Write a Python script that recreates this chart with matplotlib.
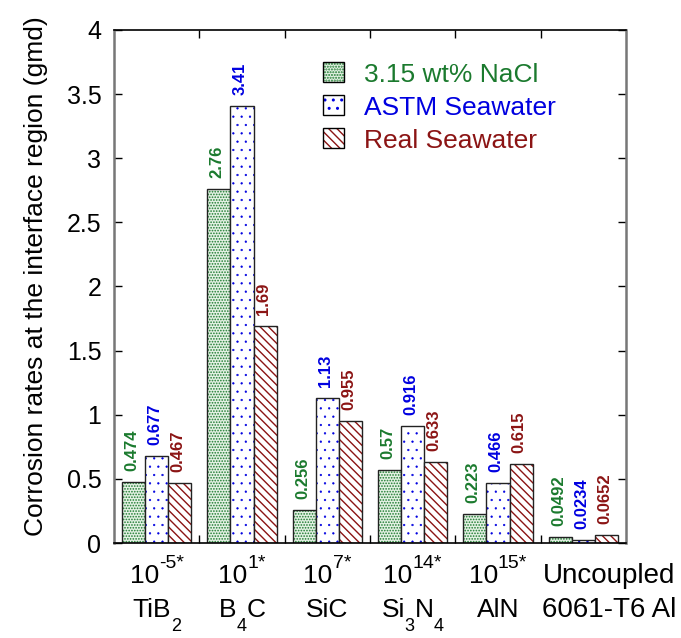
import numpy as np
import matplotlib
matplotlib.use("Agg")
import matplotlib.pyplot as plt
import matplotlib.transforms as mtransforms
from matplotlib.legend_handler import HandlerTuple
from matplotlib.patches import Patch

plt.rcParams['font.family'] = ['Liberation Sans', 'DejaVu Sans']

# data
categories = ['TiB2', 'B4C', 'SiC', 'Si3N4', 'AlN', 'Uncoupled 6061-T6 Al']
nacl = [0.474, 2.76, 0.256, 0.57, 0.223, 0.0492]
astm = [0.677, 3.41, 1.13, 0.916, 0.466, 0.0234]
real = [0.467, 1.69, 0.955, 0.633, 0.615, 0.0652]
nacl_lbl = ['0.474', '2.76', '0.256', '0.57', '0.223', '0.0492']
astm_lbl = ['0.677', '3.41', '1.13', '0.916', '0.466', '0.0234']
real_lbl = ['0.467', '1.69', '0.955', '0.633', '0.615', '0.0652']

# tick label pieces: (text, kind) with kind 'n' normal, 'sup', 'sub'
line1 = [
    [('10', 'n'), ('-5*', 'sup')],
    [('10', 'n'), ('1*', 'sup')],
    [('10', 'n'), ('7*', 'sup')],
    [('10', 'n'), ('14*', 'sup')],
    [('10', 'n'), ('15*', 'sup')],
    [('Uncoupled', 'big')],
]
line2 = [
    [('TiB', 'n'), ('2', 'sub')],
    [('B', 'n'), ('4', 'sub'), ('C', 'n')],
    [('SiC', 'n')],
    [('Si', 'n'), ('3', 'sub'), ('N', 'n'), ('4', 'sub')],
    [('AlN', 'n')],
    [('6061-T6 Al', 'big')],
]

series = [
    ('3.15 wt% NaCl', nacl, nacl_lbl, '#1b7a2e', '#e4f1e4', '......', 0.8),
    ('ASTM Seawater', astm, astm_lbl, '#0000e0', 'white', '..', 0.4),
    ('Real Seawater', real, real_lbl, '#8b1414', 'white', '\\\\\\\\', 1.0),
]

fig = plt.figure(figsize=(6.81, 6.38), dpi=100)
ax = fig.add_axes([0.1674, 0.1489, 0.7518, 0.8041])

x = np.arange(len(categories))
width = 0.27
handles = []
for i, (name, vals, lbls, col, face, hatch, hlw) in enumerate(series):
    pos = x + (i - 1) * width
    with plt.rc_context({'hatch.linewidth': hlw}):
        ax.bar(pos, vals, width, color=face, edgecolor=col, hatch=hatch, linewidth=0)
        hp = Patch(facecolor=face, edgecolor=col, hatch=hatch, linewidth=0)
    ax.bar(pos, vals, width, fill=False, edgecolor='#222222', linewidth=1.0)
    for p, v, t in zip(pos, vals, lbls):
        ax.text(p - 0.02, v + 0.085, t, rotation=90, ha='center', va='bottom',
                color=col, fontsize=12, fontweight='bold')
    handles.append((hp, Patch(fill=False, edgecolor='black', linewidth=1.0)))

leg = ax.legend(handles, [s[0] for s in series], handler_map={tuple: HandlerTuple(ndivide=1, pad=0)},
                loc='upper left', bbox_to_anchor=(0.408, 0.937), frameon=False, fontsize=19,
                handlelength=0.8, handleheight=0.8, labelspacing=0.33, handletextpad=0.75,
                borderpad=0, borderaxespad=0)
for txt, s in zip(leg.get_texts(), series):
    txt.set_color(s[3])

ax.set_xlim(-0.5, 5.5)
ax.set_ylim(0, 4)
ax.set_yticks(np.arange(0, 4.01, 0.5))
ax.set_yticklabels(['0', '0.5', '1', '1.5', '2', '2.5', '3', '3.5', '4'])
ax.set_xticks(np.arange(0.5, 5.0, 1.0))
ax.set_xticklabels([])
ax.tick_params(axis='both', direction='in', length=6, width=1, top=True, right=True,
               labelsize=18, pad=9)
for side in ['left', 'right']:
    ax.spines[side].set_color('#777777')
    ax.spines[side].set_linewidth(1.8)
for side in ['top', 'bottom']:
    ax.spines[side].set_color('black')
    ax.spines[side].set_linewidth(1.2)

ax.set_ylabel('Corrosion rates at the interface region (gmd)', fontsize=19)
ax.yaxis.set_label_coords(-0.128, 0.52)

# category labels with Excel-style super/subscripts (offsets in pixels)
sizes = {'n': 19, 'sup': 14, 'sub': 13, 'big': 20}
dys = {'n': 0, 'sup': 15, 'sub': -14, 'big': 0}
renderer = fig.canvas.get_renderer()
trans = ax.get_xaxis_transform()


def draw_pieces(xc, yfrac, pieces):
    texts = []
    widths = []
    for s, kind in pieces:
        t = ax.text(xc, yfrac, s, transform=trans, ha='left', va='baseline', fontsize=sizes[kind])
        texts.append(t)
        widths.append(t.get_window_extent(renderer).width)
    total = sum(widths)
    dx = -total / 2.0
    for t, w, (s, kind) in zip(texts, widths, pieces):
        t.set_transform(mtransforms.offset_copy(trans, fig, x=dx, y=dys[kind], units='dots'))
        dx += w


for i in range(len(categories)):
    xc = i + (0.3 if i == 5 else 0.0)
    draw_pieces(xc, -0.078, line1[i])
    draw_pieces(xc, -0.144, line2[i])

fig.savefig('out.png', dpi=100)
